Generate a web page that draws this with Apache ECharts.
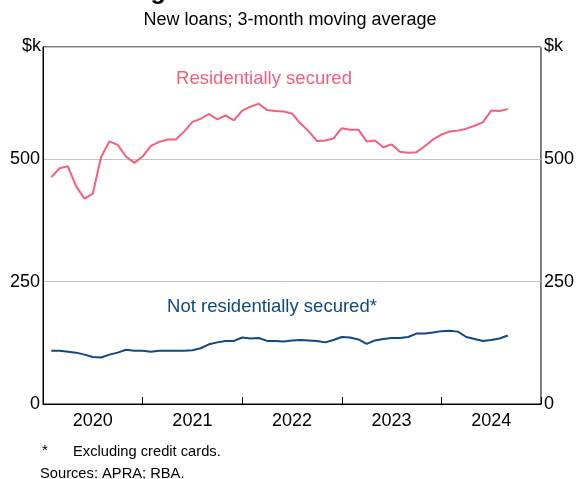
<!DOCTYPE html>
<html>
<head>
<meta charset="utf-8">
<script src="https://cdn.jsdelivr.net/npm/echarts@6/dist/echarts.min.js"></script>
<style>
  html, body { margin: 0; padding: 0; background: #fff; }
  #chart { width: 577px; height: 479px; }
</style>
</head>
<body>
<div id="chart"></div>
<script>
// month index from Jan 2020 = 0; data runs Feb 2020 .. Sep 2024
var months = [];
for (var m = 1; m <= 56; m++) months.push(m);

var residential = [
  464, 482, 486, 445, 420, 430, 505, 537, 530, 506,
  493, 506, 528, 536, 541, 541, 557, 577, 583, 593,
  582, 590, 580, 600, 608, 614, 601, 599, 598, 594,
  574, 558, 538, 539, 543, 564, 561, 561, 537, 539,
  525, 531, 516, 514, 515, 527, 541, 551, 557, 559,
  563, 569, 576, 600, 599, 603
];

var nonResidential = [
  109, 109, 107, 105, 101, 96, 95, 101, 105, 111,
  109, 109, 107, 109, 109, 109, 109, 110, 114, 122,
  126, 129, 129, 136, 134, 135, 129, 129, 128, 130,
  131, 130, 129, 126, 131, 137, 136, 132, 123, 130,
  133, 135, 135, 137, 144, 144, 146, 149, 150, 148,
  137, 133, 129, 131, 134, 140
];

var yearLabels = ['2020', '2021', '2022', '2023', '2024'];
var yTicks = [0, 250, 500];

function pairs(vals) {
  return vals.map(function (v, i) { return [months[i], v]; });
}

var chart = echarts.init(document.getElementById('chart'));
var font = 'Arial, "Liberation Sans", sans-serif';
var pink = '#f3607c';
var navy = '#0f4a7e';

function yLabel(v) { return yTicks.indexOf(v) >= 0 ? String(v) : ''; }

var option = {
  animation: false,
  textStyle: { fontFamily: font },
  grid: {
    left: 43, right: 36, top: 47, bottom: 75,
    show: true, borderColor: '#000', borderWidth: 1
  },
  xAxis: [
    {
      type: 'value', min: 0, max: 60, interval: 12,
      axisLine: { lineStyle: { color: '#000', width: 1 } },
      axisTick: { show: true, inside: true, length: 7, lineStyle: { color: '#000' } },
      axisLabel: { show: false },
      splitLine: { show: false }
    },
    {
      type: 'value', min: 0, max: 60, interval: 6, position: 'bottom',
      axisLine: { show: false },
      axisTick: { show: false },
      splitLine: { show: false },
      axisLabel: {
        color: '#000', fontSize: 18, margin: 8, fontFamily: font,
        formatter: function (v) {
          return v % 12 === 6 ? yearLabels[(v - 6) / 12] : '';
        }
      }
    }
  ],
  yAxis: [
    {
      type: 'value', min: 0, max: 730, interval: 250, position: 'left',
      axisLine: { show: true, lineStyle: { color: '#000' } },
      axisTick: { show: false },
      axisLabel: { color: '#000', fontSize: 18, margin: 3, fontFamily: font, formatter: yLabel },
      splitLine: { show: true, lineStyle: { color: '#c4c4c4', width: 1 } }
    },
    {
      type: 'value', min: 0, max: 730, interval: 250, position: 'right',
      axisLine: { show: true, lineStyle: { color: '#000' } },
      axisTick: { show: false },
      axisLabel: { color: '#000', fontSize: 18, margin: 3, fontFamily: font, formatter: yLabel },
      splitLine: { show: false }
    }
  ],
  series: [
    {
      name: 'Residentially secured',
      type: 'line',
      data: pairs(residential),
      symbol: 'none',
      lineStyle: { color: pink, width: 2 },
      itemStyle: { color: pink }
    },
    {
      name: 'Not residentially secured*',
      type: 'line',
      data: pairs(nonResidential),
      symbol: 'none',
      lineStyle: { color: navy, width: 2 },
      itemStyle: { color: navy }
    }
  ],
  graphic: [
    {
      type: 'text', left: 'center', top: -20,
      style: { text: 'Average Small Business Loan Size', font: 'bold 25px ' + font, fill: '#000' }
    },
    {
      type: 'text', x: 290, y: 20,
      style: { text: 'New loans; 3-month moving average', font: '18px ' + font, fill: '#000', align: 'center', verticalAlign: 'middle' }
    },
    {
      type: 'text', x: 41, y: 46,
      style: { text: '$k', font: '18px ' + font, fill: '#000', align: 'right', verticalAlign: 'middle' }
    },
    {
      type: 'text', x: 544, y: 46,
      style: { text: '$k', font: '18px ' + font, fill: '#000', align: 'left', verticalAlign: 'middle' }
    },
    {
      type: 'text', x: 264, y: 79,
      style: { text: 'Residentially secured', font: '18.5px ' + font, fill: pink, align: 'center', verticalAlign: 'middle' }
    },
    {
      type: 'text', x: 272, y: 307,
      style: { text: 'Not residentially secured*', font: '18.5px ' + font, fill: navy, align: 'center', verticalAlign: 'middle' }
    },
    {
      type: 'text', x: 42, y: 451,
      style: { text: '*', font: '15px ' + font, fill: '#000', verticalAlign: 'middle' }
    },
    {
      type: 'text', x: 73, y: 452,
      style: { text: 'Excluding credit cards.', font: '14.7px ' + font, fill: '#000', verticalAlign: 'middle' }
    },
    {
      type: 'text', x: 40, y: 474,
      style: { text: 'Sources: APRA; RBA.', font: '14.7px ' + font, fill: '#000', verticalAlign: 'middle' }
    }
  ]
};

chart.setOption(option);
</script>
</body>
</html>
